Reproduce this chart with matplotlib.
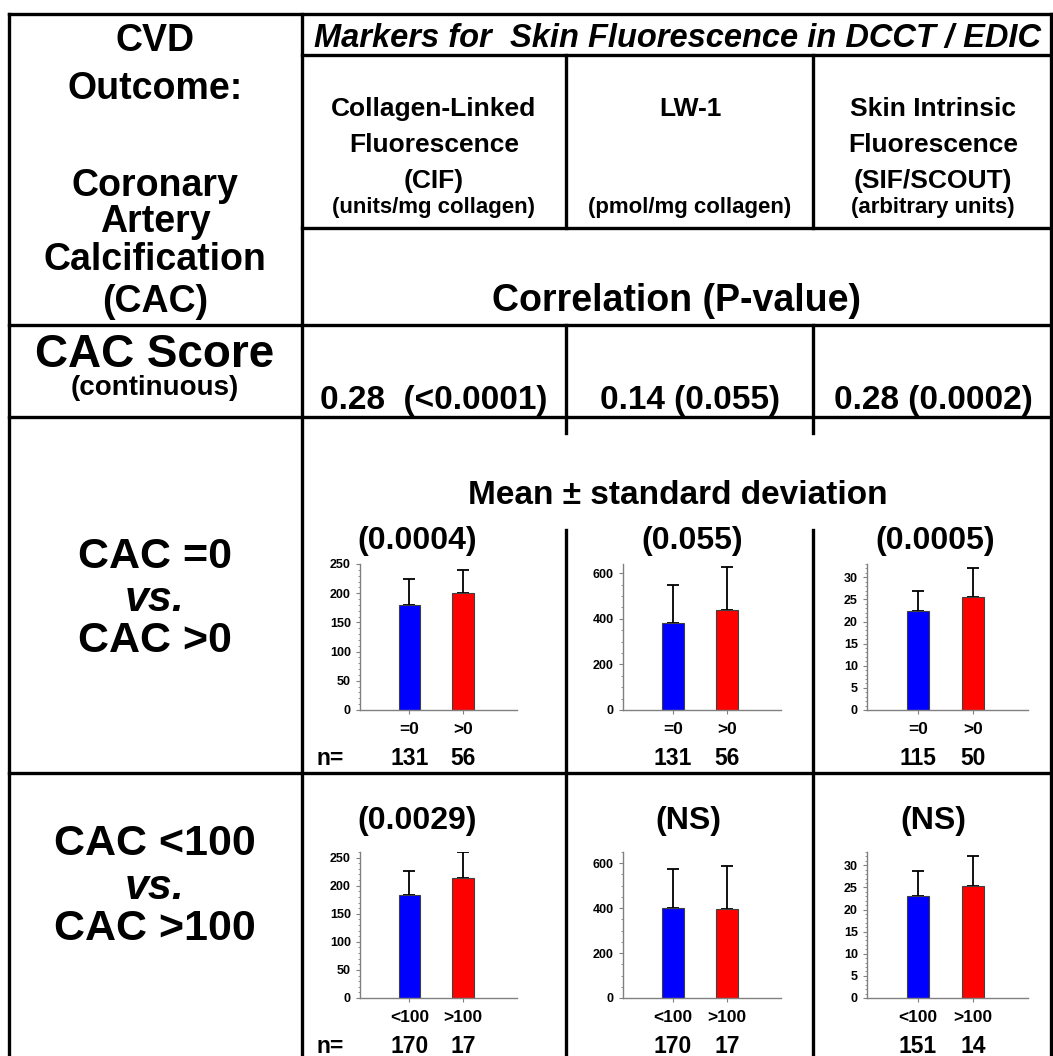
import matplotlib
matplotlib.use("Agg")
import matplotlib.pyplot as plt
from matplotlib.lines import Line2D
from matplotlib.transforms import blended_transform_factory
from matplotlib.ticker import MultipleLocator

plt.rcParams['font.family'] = ['Liberation Sans', 'DejaVu Sans']
plt.rcParams['font.weight'] = 'bold'

W, H = 1053, 1056

# marker columns
markers = ["CIF", "LW-1", "SIF"]
header_lines = [
    ["Collagen-Linked", "Fluorescence", "(CIF)"],
    ["LW-1"],
    ["Skin Intrinsic", "Fluorescence", "(SIF/SCOUT)"],
]
units = ["(units/mg collagen)", "(pmol/mg collagen)", "(arbitrary units)"]
correlations = ["0.28  (<0.0001)", "0.14 (0.055)", "0.28 (0.0002)"]

# CAC = 0 vs CAC > 0
groups_zero = ["=0", ">0"]
pvals_zero = ["(0.0004)", "(0.055)", "(0.0005)"]
means_zero = [[180, 200], [382, 437], [22.3, 25.5]]
sd_zero = [[44, 40], [166, 190], [4.7, 6.6]]
n_zero = [[131, 56], [131, 56], [115, 50]]

# CAC < 100 vs CAC > 100
groups_100 = ["<100", ">100"]
pvals_100 = ["(0.0029)", "(NS)", "(NS)"]
means_100 = [[183, 213], [400, 398], [23.0, 25.3]]
sd_100 = [[43, 47], [175, 189], [5.6, 6.9]]
n_100 = [[170, 17], [170, 17], [151, 14]]

yticks = [[0, 50, 100, 150, 200, 250], [0, 200, 400, 600], [0, 5, 10, 15, 20, 25, 30]]
yminor = [10, 50, 1]
ylims_zero = [250, 640, 33]
ylims_100 = [260, 650, 33]

bar_colors = ["#0000ff", "#ff0000"]

fig = plt.figure(figsize=(W / 100, H / 100), dpi=100)


def fx(x):
    return x / W


def fy(y):
    return 1 - y / H


def put(x, y, s, size, style='normal', caps=True, **kw):
    # y is the middle of the capitals; shift for matplotlib's 'center' box
    if caps:
        y = y + 0.1 * size * 100 / 72
    fig.text(fx(x), fy(y), s, fontsize=size, fontstyle=style,
             fontweight='bold', ha='center', va='center', **kw)


def hline(y, x0, x1, lw=2.4):
    fig.add_artist(Line2D([fx(x0), fx(x1)], [fy(y), fy(y)], color='black', lw=lw))


def vline(x, y0, y1, lw=2.4):
    fig.add_artist(Line2D([fx(x), fx(x)], [fy(y0), fy(y1)], color='black', lw=lw))


# table grid
hline(14, 9, 1053)
vline(9, 14, 1056)
vline(1051, 14, 1056)
vline(302, 14, 1056)
hline(55, 302, 1053)
hline(228, 302, 1053)
hline(325, 9, 1053)
hline(417, 9, 1053)
hline(773, 9, 1053)
for xd in (566, 813):
    vline(xd, 55, 228)
    vline(xd, 325, 433)
    vline(xd, 530, 1056)

# left column
left_x = 155
for s, y in [("CVD", 37), ("Outcome:", 85), ("Coronary", 182), ("Artery", 218),
             ("Calcification", 256), ("(CAC)", 298)]:
    put(left_x, y, s, 27)
put(left_x, 350, "CAC Score", 33)
put(left_x, 385, "(continuous)", 20)
put(left_x, 553, "CAC =0", 31)
put(left_x, 600, "vs.", 31, style='italic', caps=False)
put(left_x, 637, "CAC >0", 31)
put(left_x, 840, "CAC <100", 31)
put(left_x, 888, "vs.", 31, style='italic', caps=False)
put(left_x, 925, "CAC >100", 31)

# header
put(677, 35, "Markers for  Skin Fluorescence in DCCT / EDIC", 23.5, style='italic')
col_x = [434, 690, 933]
for cx, lines, unit in zip(col_x, header_lines, units):
    for k, s in enumerate(lines):
        put(cx, 106 + 36 * k, s, 19)
    put(cx, 205, unit, 16)
put(677, 297, "Correlation (P-value)", 27)
for cx, s in zip(col_x, correlations):
    put(cx, 397, s, 24)
put(678, 492, "Mean \u00b1 standard deviation", 24)

# bar chart panels
p_x = [417, 692, 935]
p_x2 = [417, 688, 933]
axes_x = [(360, 517), (623, 781), (867, 1028)]


def panel(i, x0, x1, ybot, ytop_val, means, sds, groups, counts, show_n, ytop_px):
    ax = fig.add_axes([fx(x0), fy(ybot), (x1 - x0) / W, (ybot - ytop_px) / H])
    pos = [1, 2]
    ax.bar(pos, means, width=0.4, color=bar_colors, edgecolor='#404040', lw=0.8, zorder=2)
    ax.errorbar(pos, means, yerr=[[0, 0], sds], fmt='none', ecolor='black',
                elinewidth=1.3, capsize=4, capthick=1.3, zorder=1)
    ax.set_xlim(0.08, 3.0)
    ax.set_ylim(0, ytop_val)
    ax.set_yticks(yticks[i])
    ax.yaxis.set_minor_locator(MultipleLocator(yminor[i]))
    ax.set_xticks(pos)
    ax.set_xticklabels(groups, fontsize=12.5, fontweight='bold')
    ax.tick_params(axis='x', length=3, pad=5.5, color='#808080')
    ax.tick_params(axis='y', which='major', length=3, labelsize=9, pad=3.5, color='#808080')
    ax.tick_params(axis='y', which='minor', length=1.5, color='#808080')
    for lab in ax.get_yticklabels():
        lab.set_fontweight('bold')
    for side in ('top', 'right'):
        ax.spines[side].set_visible(False)
    for side in ('left', 'bottom'):
        ax.spines[side].set_color('#808080')
        ax.spines[side].set_linewidth(1.0)
    ax.patch.set_alpha(0)
    # sample sizes under each bar
    tr = blended_transform_factory(ax.transData, fig.transFigure)
    ny = fy(ybot + 55)
    for p, c in zip(pos, counts):
        ax.text(p, ny, str(c), transform=tr, fontsize=16.5, fontweight='bold',
                ha='center', va='baseline')
    if show_n:
        fig.text(fx(330), ny, "n=", fontsize=16.5, fontweight='bold',
                 ha='center', va='baseline')


for i in range(3):
    x0, x1 = axes_x[i]
    put(p_x[i], 538, pvals_zero[i], 23)
    panel(i, x0, x1, 710, ylims_zero[i], means_zero[i], sd_zero[i], groups_zero,
          n_zero[i], i == 0, 564)
    put(p_x2[i], 818, pvals_100[i], 23)
    panel(i, x0, x1, 998, ylims_100[i], means_100[i], sd_100[i], groups_100,
          n_100[i], i == 0, 852)

fig.savefig("out.png", dpi=100, facecolor='white')
